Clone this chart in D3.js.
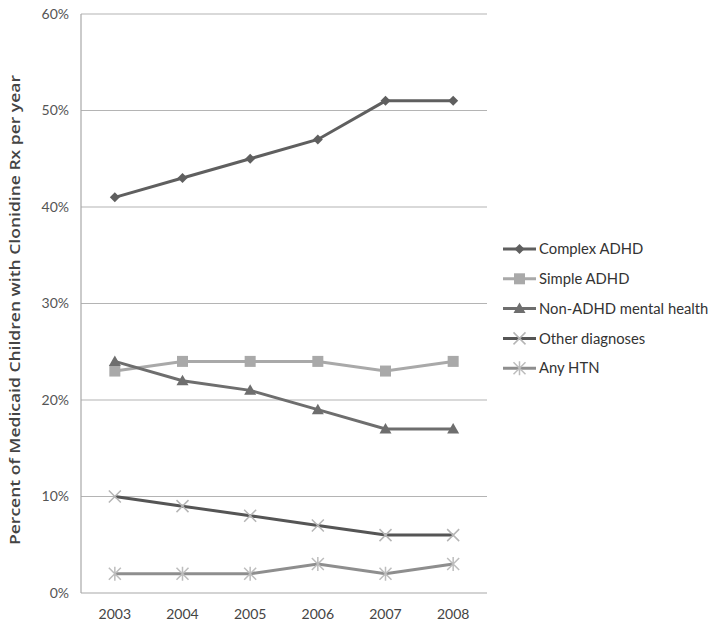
<!DOCTYPE html>
<html><head><meta charset="utf-8">
<script src="https://cdn.jsdelivr.net/npm/d3@7/dist/d3.min.js"></script>
<style>body{margin:0;background:#fff;} svg{display:block;}</style>
</head><body>
<svg id="c" width="714" height="633"></svg>
<script>
const years = ["2003","2004","2005","2006","2007","2008"];
const complexADHD = [41,43,45,47,51,51];
const simpleADHD = [23,24,24,24,23,24];
const nonADHD = [24,22,21,19,17,17];
const otherDx = [10,9,8,7,6,6];
const anyHTN = [2,2,2,3,2,3];
const yTicks = [0,10,20,30,40,50,60];
const seriesNames = ["Complex ADHD","Simple ADHD","Non-ADHD mental health","Other diagnoses","Any HTN"];

const series = [
  {name: seriesNames[0], values: complexADHD, line:"#5f5f5f", mark:"diamond", mfill:"#5f5f5f"},
  {name: seriesNames[1], values: simpleADHD, line:"#a9a9a9", mark:"square", mfill:"#a9a9a9"},
  {name: seriesNames[2], values: nonADHD, line:"#6e6e6e", mark:"triangle", mfill:"#6e6e6e"},
  {name: seriesNames[3], values: otherDx, line:"#555555", mark:"x", mfill:"#b5b5b5"},
  {name: seriesNames[4], values: anyHTN, line:"#8e8e8e", mark:"star", mfill:"#bdbdbd"}
];

const svg = d3.select("#c");
const font = "Lato, 'Open Sans', sans-serif";
const m = {l:81, r:487, t:14, b:593};
const x = d3.scaleBand().domain(years).range([m.l, m.r]);
const y = d3.scaleLinear().domain([0,60]).range([m.b, m.t]);
const cx = d => x(d) + x.bandwidth()/2;

// gridlines
svg.append("g").selectAll("line").data(yTicks.filter(t=>t>0)).join("line")
  .attr("x1", m.l).attr("x2", m.r).attr("y1", d=>y(d)).attr("y2", d=>y(d))
  .attr("stroke", "#b4b4b4").attr("stroke-width", 1.2);

// axes
svg.append("line").attr("x1", m.l).attr("x2", m.l).attr("y1", m.t).attr("y2", m.b)
  .attr("stroke", "#a8a8a8").attr("stroke-width", 1.2);
svg.append("line").attr("x1", m.l).attr("x2", m.r).attr("y1", m.b).attr("y2", m.b)
  .attr("stroke", "#a8a8a8").attr("stroke-width", 1.2);

// y tick labels
svg.append("g").selectAll("text").data(yTicks).join("text")
  .attr("x", 69).attr("y", d=>y(d)).attr("dy","0.35em").attr("text-anchor","end")
  .attr("font-family", font).attr("font-size", 14).attr("fill","#555")
  .text(d=>d+"%");

// x tick labels
svg.append("g").selectAll("text").data(years).join("text")
  .attr("x", d=>cx(d)).attr("y", 619).attr("text-anchor","middle")
  .attr("font-family", font).attr("font-size", 14).attr("fill","#444")
  .text(d=>d);

// y axis title
svg.append("text").attr("transform","translate(20,310) rotate(-90)")
  .attr("text-anchor","middle").attr("font-family", "'Open Sans', Lato, sans-serif").attr("font-size", 13.5)
  .attr("font-weight", 600).attr("fill","#444")
  .attr("textLength", 470).attr("lengthAdjust","spacingAndGlyphs")
  .text("Percent of Medicaid Children with Clonidine Rx per year");

function drawMarker(g, type, px, py, s) {
  if (type === "diamond") {
    g.append("path").attr("d", `M${px},${py-5}L${px+5},${py}L${px},${py+5}L${px-5},${py}Z`).attr("fill", s.mfill);
  } else if (type === "square") {
    g.append("rect").attr("x", px-5.5).attr("y", py-5.5).attr("width", 11).attr("height", 11).attr("fill", s.mfill);
  } else if (type === "triangle") {
    g.append("path").attr("d", `M${px},${py-6}L${px+6},${py+4.5}L${px-6},${py+4.5}Z`).attr("fill", s.mfill);
  } else if (type === "x") {
    g.append("path").attr("d", `M${px-6},${py-6}L${px+6},${py+6}M${px-6},${py+6}L${px+6},${py-6}`)
      .attr("stroke", s.mfill).attr("stroke-width", 1.5);
  } else if (type === "star") {
    g.append("path").attr("d", `M${px-6},${py-6}L${px+6},${py+6}M${px-6},${py+6}L${px+6},${py-6}M${px},${py-7}L${px},${py+7}`)
      .attr("stroke", s.mfill).attr("stroke-width", 1.5);
  }
}

const line = d3.line().x((d,i)=>cx(years[i])).y(d=>y(d));
series.forEach(s => {
  const g = svg.append("g");
  g.append("path").attr("d", line(s.values)).attr("fill","none")
    .attr("stroke", s.line).attr("stroke-width", 3);
  s.values.forEach((v,i) => drawMarker(g, s.mark, cx(years[i]), y(v), s));
});

// legend
const lg = svg.append("g");
series.forEach((s,i) => {
  const ly = 249 + i*29.8;
  const g = lg.append("g");
  g.append("line").attr("x1", 503).attr("x2", 536).attr("y1", ly).attr("y2", ly)
    .attr("stroke", s.line).attr("stroke-width", 3);
  drawMarker(g, s.mark, 519.5, ly, s);
  g.append("text").attr("x", 539).attr("y", ly).attr("dy","0.35em")
    .attr("font-family", font).attr("font-size", 14.8).attr("fill","#333").text(s.name);
});
</script>
</body></html>
